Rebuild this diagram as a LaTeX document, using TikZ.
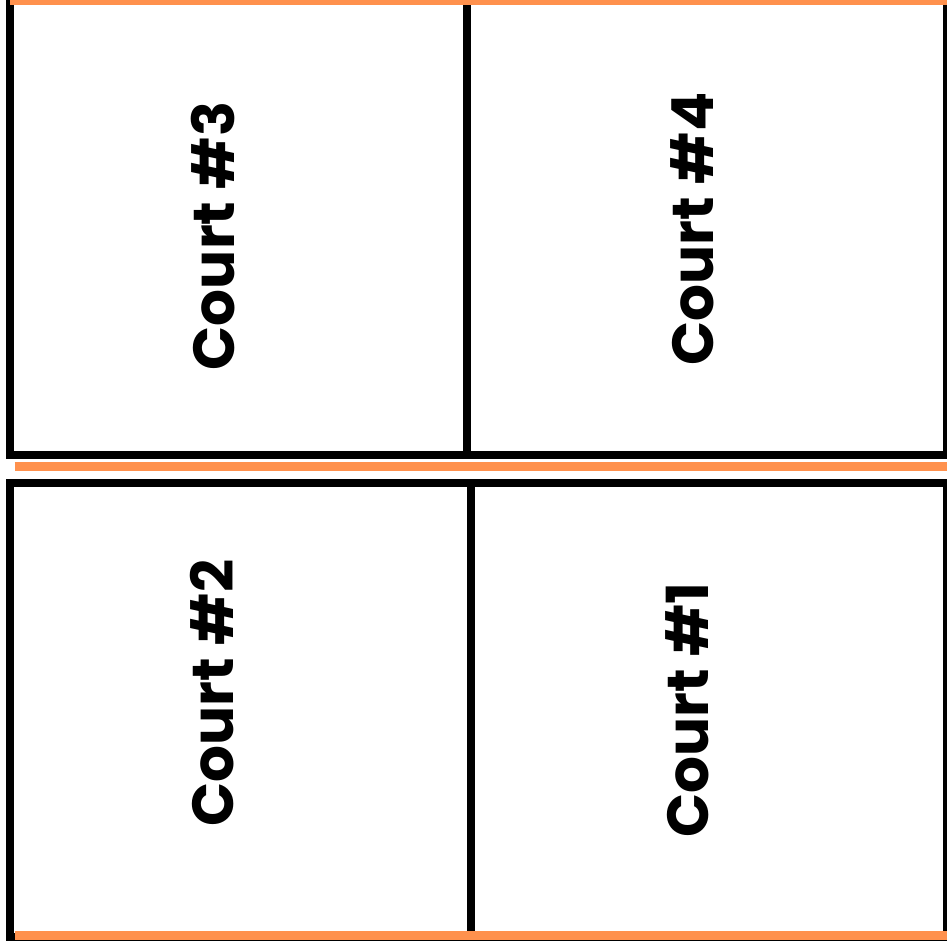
\documentclass[tikz,border=0pt]{standalone}
\usepackage{fontspec}
\setmainfont{Poppins}
\definecolor{tapeorange}{HTML}{FF914D}
\usetikzlibrary{positioning}

\begin{document}
\begin{tikzpicture}[
		x=1pt, y=-1pt,
		wall/.style={draw=black, line width=8pt},
		tape/.style={draw=tapeorange, line width=9pt},
		courtlabel/.style={font=\fontsize{58}{60}\selectfont\bfseries, rotate=90, inner sep=0pt}
	]
	\useasboundingbox (0,0) rectangle (947,944);
	% top pair of courts
	\draw[wall] (10,0) rectangle (947,454.5);
	\draw[wall] (467,0) -- (467,454.5);
	% bottom pair of courts
	\draw[wall] (10,483) rectangle (947,937);
	\draw[wall] (471,483) -- (471,937);
	% orange lines
	\draw[tape] (9.5,0.5) -- (950,0.5);
	\draw[tape] (14.7,466.5) -- (950,466.5);
	\draw[tape] (14.7,935) -- (950,935);
	\foreach \n/\x/\y in {3/213/236, 4/692/229, 2/212/693, 1/687/710} {
			\node[courtlabel] (court\n) at (\x,\y) {Court \#\n};
		}
\end{tikzpicture}
\end{document}
